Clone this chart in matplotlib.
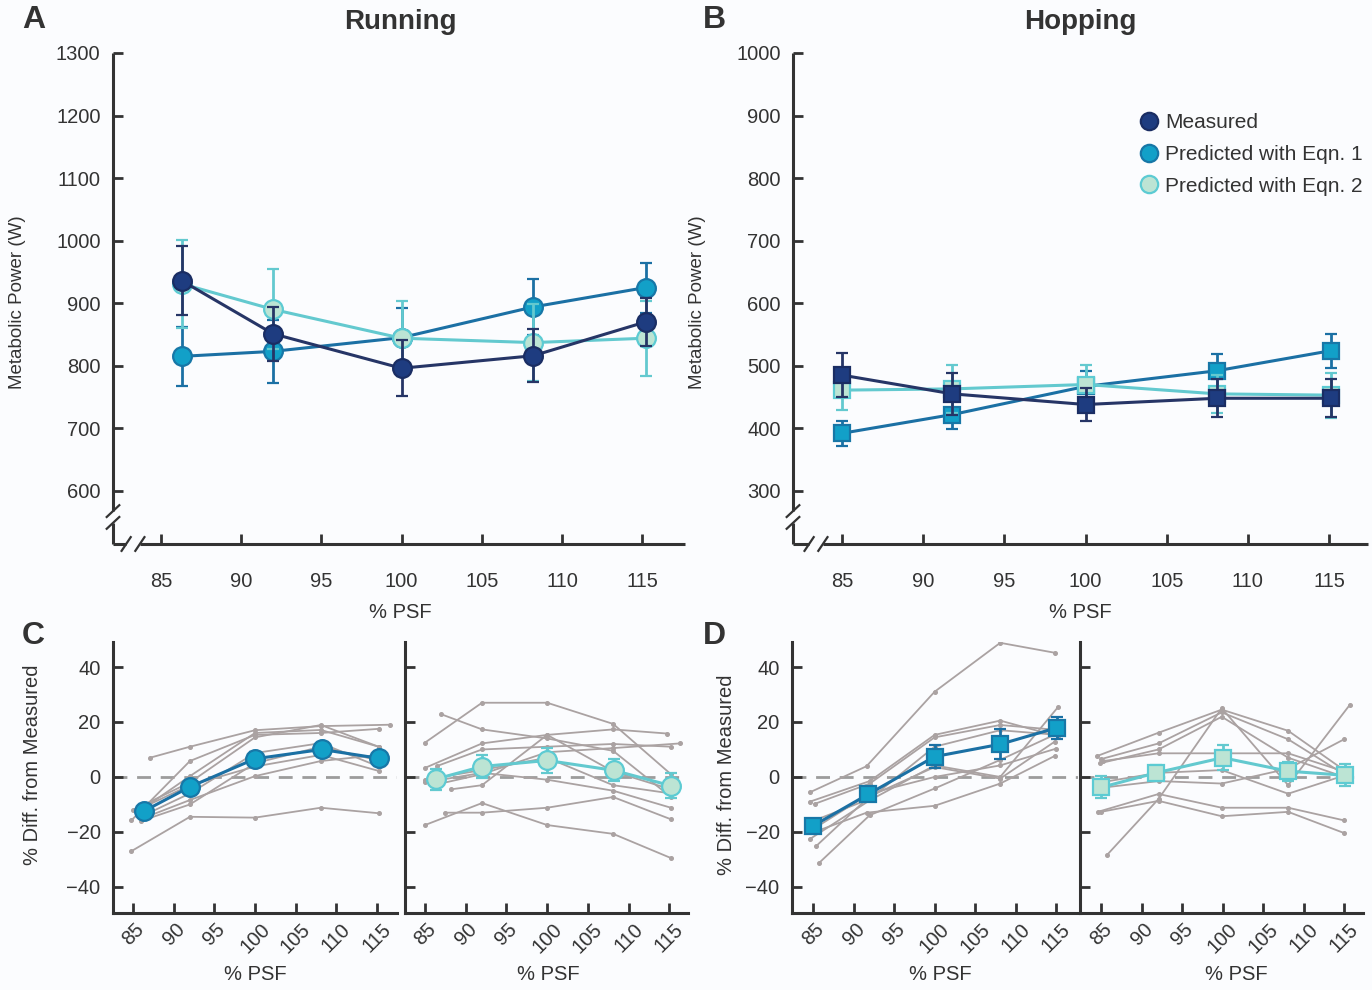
import numpy as np
import matplotlib.pyplot as plt
from matplotlib.lines import Line2D

plt.rcParams['font.family'] = ['Liberation Sans', 'DejaVu Sans']

W, H = 1372, 990
INK = '#333333'

psf_ticks = [85, 90, 95, 100, 105, 110, 115]

# group means, running (W)
run_x = [86.3, 92.0, 100.0, 108.2, 115.2]
run_measured = [936, 851, 796, 816, 870]
run_measured_sd = [55, 43, 45, 42, 39]
run_eqn1 = [815, 823, 845, 894, 925]
run_eqn1_sd = [47, 50, 48, 45, 40]
run_eqn2 = [931, 890, 844, 837, 844]
run_eqn2_sd = [70, 64, 60, 62, 60]

# group means, hopping (W)
hop_x = [85.0, 91.8, 100.0, 108.1, 115.1]
hop_measured = [485, 455, 438, 448, 448]
hop_measured_sd = [35, 33, 27, 30, 30]
hop_eqn1 = [392, 422, 467, 492, 524]
hop_eqn1_sd = [20, 23, 24, 26, 27]
hop_eqn2 = [461, 463, 470, 455, 453]
hop_eqn2_sd = [32, 38, 31, 30, 36]

# % difference from measured, means
run_diff_eqn1 = [-12.5, -3.6, 6.6, 10.0, 6.8]
run_diff_eqn1_se = [1.5, 2.0, 2.5, 2.5, 2.0]
run_diff_eqn2 = [-0.8, 3.8, 6.0, 2.4, -3.2]
run_diff_eqn2_se = [3.8, 4.2, 4.5, 4.0, 4.5]
hop_diff_eqn1 = [-17.8, -6.3, 7.4, 11.9, 17.9]
hop_diff_eqn1_se = [2.0, 1.5, 4.3, 5.5, 4.0]
hop_diff_eqn2 = [-3.8, 1.5, 7.0, 2.1, 0.6]
hop_diff_eqn2_se = [4.0, 3.0, 4.5, 3.5, 4.0]

# individual subjects
run_eqn1_subj_x = [
    [87.1, 92.0, 100.0, 108.1, 116.6],
    [84.8, 92.0, 100.0, 108.1, 115.2],
    [84.8, 92.0, 100.0, 108.1, 115.2],
    [85.5, 92.0, 100.0, 108.1, 115.2],
    [86.3, 92.0, 100.0, 108.1, 115.2],
    [86.3, 92.0, 100.0, 108.1, 115.2],
    [87.2, 92.0, 100.0, 108.1, 115.2],
    [85.0, 92.0, 100.0, 108.1, 115.2],
    [86.0, 92.0, 100.0, 108.1, 115.2],
]
run_eqn1_subj_y = [
    [7.0, 11.0, 17.0, 18.5, 19.0],
    [-27.0, -14.5, -14.8, -11.2, -13.2],
    [-15.8, 5.8, 15.3, 16.0, 17.5],
    [-13.0, 0.3, 16.0, 17.1, 11.0],
    [-14.0, -6.0, 8.7, 12.3, 3.8],
    [-11.0, -3.0, 3.8, 8.0, 2.2],
    [-13.9, -8.4, 0.3, 5.8, 8.0],
    [-12.0, -2.0, 14.4, 18.9, 11.0],
    [-16.0, -10.0, 5.0, 11.0, 6.0],
]
run_eqn2_subj_x = [
    [85.0, 92.0, 100.0, 108.1, 115.2],
    [87.0, 92.0, 100.0, 108.1, 115.2],
    [85.0, 92.0, 100.0, 108.1, 114.7],
    [86.0, 92.0, 100.0, 108.1, 116.3],
    [88.2, 92.0, 100.0, 108.1, 115.2],
    [85.0, 92.0, 100.0, 108.1, 115.2],
    [87.5, 92.0, 100.0, 108.1, 115.2],
    [85.0, 92.0, 100.0, 108.1, 115.2],
    [85.0, 92.0, 100.0, 108.1, 115.2],
    [86.5, 92.0, 100.0, 108.1, 115.2],
]
run_eqn2_subj_y = [
    [12.5, 27.0, 27.0, 19.3, 1.0],
    [22.8, 17.3, 14.0, 9.5, -7.3],
    [3.3, 12.2, 15.3, 17.3, 15.8],
    [-3.0, 1.0, 9.0, 10.5, 12.2],
    [-4.5, -3.0, 15.3, 2.0, -4.5],
    [-2.0, 1.5, -1.0, -5.0, -11.2],
    [-13.0, -13.0, -11.2, -7.3, -15.4],
    [-17.5, -9.5, -17.5, -20.7, -29.5],
    [-1.0, 2.5, 7.0, -3.0, -6.0],
    [4.0, 10.0, 11.0, 12.0, 11.0],
]
hop_eqn1_subj_x = [
    [84.6, 91.6, 100.0, 108.1, 114.8],
    [84.6, 92.0, 100.0, 108.1, 115.2],
    [85.2, 92.0, 100.0, 108.1, 115.2],
    [84.6, 92.0, 100.0, 108.1, 115.2],
    [85.4, 92.0, 100.0, 108.1, 114.8],
    [85.7, 92.0, 100.0, 108.1, 115.2],
    [85.2, 91.6, 100.0, 108.1, 114.8],
    [85.0, 92.0, 100.0, 108.1, 115.0],
    [85.0, 92.0, 100.0, 108.1, 115.2],
]
hop_eqn1_subj_y = [
    [-5.6, 3.9, 31.0, 48.8, 45.2],
    [-9.0, -1.5, 15.3, 20.5, 14.8],
    [-9.8, -2.4, 14.4, 18.9, 17.1],
    [-22.6, -8.5, 4.2, 0.0, 25.3],
    [-25.1, -7.0, 3.6, -0.6, 12.8],
    [-31.4, -13.9, -4.2, 6.2, 15.9],
    [-20.0, -13.0, -10.5, -2.4, 7.6],
    [-19.0, -6.0, 0.0, 4.2, 10.3],
    [-16.0, -8.0, 11.0, 17.0, 15.3],
]
hop_eqn2_subj_x = [
    [84.5, 92.1, 99.9, 108.1, 115.0],
    [85.0, 92.1, 99.9, 108.1, 115.0],
    [84.9, 92.1, 99.9, 108.1, 115.0],
    [85.7, 92.1, 99.9, 108.1, 115.7],
    [84.9, 92.1, 99.9, 108.1, 115.0],
    [84.6, 92.1, 99.9, 108.1, 115.0],
    [85.0, 92.1, 99.9, 108.1, 115.0],
    [84.9, 92.1, 99.9, 108.1, 115.0],
    [85.3, 92.1, 99.9, 108.1, 115.0],
]
hop_eqn2_subj_y = [
    [7.6, 16.1, 24.5, 16.8, 2.5],
    [6.5, 12.2, 23.5, 13.7, 1.0],
    [5.0, 10.0, 21.9, 7.0, 0.0],
    [-28.5, -8.0, 25.0, -3.0, 26.2],
    [-4.0, -1.5, -2.4, 3.0, 13.7],
    [-12.7, -6.2, -11.2, -11.2, -15.8],
    [-12.7, -8.7, -14.3, -12.7, -20.4],
    [-2.0, 1.5, 2.5, -6.1, 0.5],
    [5.8, 8.6, 8.6, 8.6, 2.0],
]

# colours: (line, face, edge)
C_MEAS = ('#263566', '#1e3c80', '#1a2d63')
C_EQ1 = ('#1b70a4', '#12a0c8', '#1777a7')
C_EQ2 = ('#63c9cf', '#bce4d4', '#5ccbd3')
GREY = '#aaa2a2'


def pos(l, r, t, b):
    return [l / W, 1 - b / H, (r - l) / W, (b - t) / H]


def base_style(ax, fs=14.5):
    for s in ['top', 'right']:
        ax.spines[s].set_visible(False)
    for s in ['left', 'bottom']:
        ax.spines[s].set_linewidth(2.2)
        ax.spines[s].set_color(INK)
    ax.tick_params(direction='in', length=7, width=2, color=INK,
                   labelcolor=INK, labelsize=fs)
    ax.tick_params(axis='y', pad=9)
    ax.set_facecolor('none')


def broken_axes(ax, ybreak=0.055, xbreak=0.035):
    # draw spines by hand so both axes get a "//" gap near the origin
    ax.spines['left'].set_visible(False)
    ax.spines['bottom'].set_visible(False)
    kw = dict(transform=ax.transAxes, color=INK, lw=2.2, clip_on=False,
              solid_capstyle='butt')
    g = 0.012
    ax.plot([0, 0], [ybreak + g, 1], **kw)
    ax.plot([0, 0], [0, ybreak - g], **kw)
    ax.plot([0, xbreak - g], [0, 0], **kw)
    ax.plot([xbreak + g, 1], [0, 0], **kw)
    dx, dy = 0.011, 0.012
    for yy in (ybreak + g, ybreak - g):
        ax.plot([-dx, dx], [yy - dy, yy + dy], transform=ax.transAxes,
                color=INK, lw=1.6, clip_on=False)
    for xx in (xbreak - g, xbreak + g):
        ax.plot([xx - 0.008, xx + 0.008], [-0.014, 0.014],
                transform=ax.transAxes, color=INK, lw=1.6, clip_on=False)


def mean_series(ax, x, y, e, col, marker, ms, z):
    line, face, edge = col
    ax.errorbar(x, y, yerr=e, color=line, lw=2.2, marker=marker, ms=ms,
                mfc=face, mec=edge, mew=1.6, capsize=4.5, capthick=2,
                elinewidth=2, zorder=z)


fig = plt.figure(figsize=(W / 100, H / 100), dpi=100)
fig.patch.set_facecolor('#fbfcfe')

# ---- A: running
axA = fig.add_axes(pos(113, 685, 53, 544))
base_style(axA)
mean_series(axA, run_x, run_eqn1, run_eqn1_sd, C_EQ1, 'o', 13.5, 3)
mean_series(axA, run_x, run_eqn2, run_eqn2_sd, C_EQ2, 'o', 13.5, 4)
mean_series(axA, run_x, run_measured, run_measured_sd, C_MEAS, 'o', 13.5, 5)
axA.set_xlim(82.02, 117.66)
axA.set_ylim(515, 1300)
axA.set_yticks(np.arange(600, 1301, 100))
axA.set_xticks(psf_ticks)
axA.tick_params(axis='x', pad=20)
broken_axes(axA)

# ---- B: hopping
axB = fig.add_axes(pos(793, 1368, 53, 544))
base_style(axB)
mean_series(axB, hop_x, hop_eqn1, hop_eqn1_sd, C_EQ1, 's', 12, 3)
mean_series(axB, hop_x, hop_eqn2, hop_eqn2_sd, C_EQ2, 's', 12, 4)
mean_series(axB, hop_x, hop_measured, hop_measured_sd, C_MEAS, 's', 12, 5)
axB.set_xlim(81.98, 117.4)
axB.set_ylim(215, 1000)
axB.set_yticks(np.arange(300, 1001, 100))
axB.set_xticks(psf_ticks)
axB.tick_params(axis='x', pad=20)
broken_axes(axB, xbreak=0.04)

handles = [Line2D([], [], ls='none', marker='o', ms=12.5, mfc=c[1], mec=c[2],
                  mew=1.6) for c in (C_MEAS, C_EQ1, C_EQ2)]
axB.legend(handles, ['Measured', 'Predicted with Eqn. 1',
                     'Predicted with Eqn. 2'],
           loc='upper left', bbox_to_anchor=(0.585, 0.895), frameon=False,
           fontsize=15, handletextpad=0.2, labelspacing=0.62,
           handlelength=1.1, borderaxespad=0, labelcolor=INK)

# ---- C and D: % difference panels
diff_panels = [
    (pos(113, 397, 642, 913), (82.54, 117.46), run_eqn1_subj_x,
     run_eqn1_subj_y, run_x, run_diff_eqn1, run_diff_eqn1_se, C_EQ1, 'o', 13.5, True),
    (pos(405, 688, 642, 913), (82.54, 117.3), run_eqn2_subj_x,
     run_eqn2_subj_y, run_x, run_diff_eqn2, run_diff_eqn2_se, C_EQ2, 'o', 13.5, False),
    (pos(792, 1078, 642, 913), (82.4, 117.7), hop_eqn1_subj_x,
     hop_eqn1_subj_y, hop_x, hop_diff_eqn1, hop_diff_eqn1_se, C_EQ1, 's', 11.5, True),
    (pos(1080, 1363, 642, 913), (82.4, 117.34), hop_eqn2_subj_x,
     hop_eqn2_subj_y, hop_x, hop_diff_eqn2, hop_diff_eqn2_se, C_EQ2, 's', 11.5, False),
]
for rect, xl, sx, sy, mx, my, me, col, mk, ms, ylab in diff_panels:
    ax = fig.add_axes(rect)
    base_style(ax)
    ax.axhline(0, color='#9c9c9c', lw=2, ls=(0, (5, 3.5)), zorder=1)
    for xs, ys in zip(sx, sy):
        ax.plot(xs, ys, color=GREY, lw=1.3, marker='o', ms=2.6, zorder=2)
    mean_series(ax, mx, my, me, col, mk, ms, 5)
    ax.set_xlim(*xl)
    ax.set_ylim(-49.5, 49.1)
    ax.set_yticks([-40, -20, 0, 20, 40])
    ax.set_yticklabels(['\u221240', '\u221220', '0', '20', '40'])
    ax.set_xticks(psf_ticks)
    ax.set_xticklabels([str(t) for t in psf_ticks], rotation=45,
                       ha='center', va='top')
    ax.tick_params(axis='x', pad=5)
    if not ylab:
        ax.tick_params(axis='y', labelleft=False)

# ---- text
tk = dict(color=INK)
fig.text(22 / W, 1 - 20 / H, 'A', fontsize=23, fontweight='bold', va='center', **tk)
fig.text(703 / W, 1 - 20 / H, 'B', fontsize=23, fontweight='bold', va='center', **tk)
fig.text(22 / W, 1 - 636 / H, 'C', fontsize=23, fontweight='bold', va='center', **tk)
fig.text(703 / W, 1 - 636 / H, 'D', fontsize=23, fontweight='bold', va='center', **tk)
fig.text(400 / W, 1 - 22 / H, 'Running', fontsize=20, fontweight='bold',
         ha='center', va='center', **tk)
fig.text(1080 / W, 1 - 22 / H, 'Hopping', fontsize=20, fontweight='bold',
         ha='center', va='center', **tk)
for x in (400, 1080):
    fig.text(x / W, 1 - 613 / H, '% PSF', fontsize=14.5, ha='center', va='center', **tk)
for x in (255, 548, 940, 1236):
    fig.text(x / W, 1 - 975 / H, '% PSF', fontsize=14.5, ha='center', va='center', **tk)
for x in (18, 697):
    fig.text(x / W, 1 - 302 / H, 'Metabolic Power (W)', fontsize=13.5,
             rotation=90, ha='center', va='center', **tk)
fig.text(33 / W, 1 - 765 / H, '% Diff. from Measured', fontsize=14.5,
         rotation=90, ha='center', va='center', **tk)
fig.text(727 / W, 1 - 775 / H, '% Diff. from Measured', fontsize=14.5,
         rotation=90, ha='center', va='center', **tk)

fig.savefig('out.png', dpi=100, facecolor=fig.get_facecolor())
